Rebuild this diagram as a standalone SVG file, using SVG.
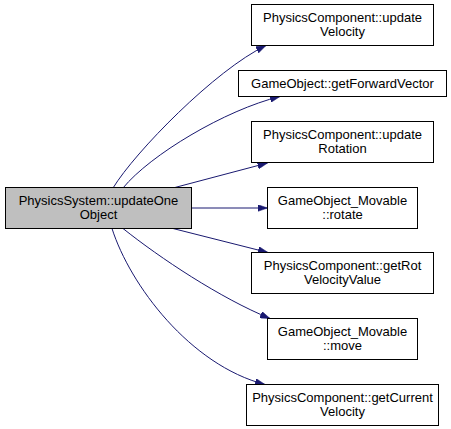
<svg xmlns="http://www.w3.org/2000/svg" width="451" height="429" viewBox="0 0 451 429">
<style>
.node rect{fill:#ffffff;stroke:#000000;stroke-width:1}
.node.root rect{fill:#bfbfbf}
.node text{font-family:"Liberation Sans",Arial,Helvetica,sans-serif;font-size:13px;fill:#000000;text-anchor:middle}
.edge{fill:none;stroke:#191970;stroke-width:1;marker-end:url(#arrow)}
</style>
<defs>
<marker id="arrow" markerUnits="userSpaceOnUse" viewBox="0 0 10 7" refX="10" refY="3.5" markerWidth="10" markerHeight="7" orient="auto">
<path d="M0,0 L10,3.5 L0,7 Z" fill="#191970" stroke="#191970" stroke-width="0.5"/>
</marker>
</defs>
<rect width="451" height="429" fill="#ffffff"/>
<g id="connectors">
<path class="edge" d="M113,188 C135,152 215,70 266,45.5"/>
<path class="edge" d="M123,188 C150,155 225,110 280,96.5"/>
<path class="edge" d="M173,188 L267.5,163"/>
<path class="edge" d="M191.5,208 L267.5,208"/>
<path class="edge" d="M173,228.5 L268,252.5"/>
<path class="edge" d="M123,228.5 C160,258 220,298 270,318.5"/>
<path class="edge" d="M112,228.5 C130,285 190,365 265,384.5"/>
</g>
<g id="node-root" class="node root">
<rect x="5.5" y="187.5" width="186" height="41"/>
<text x="98.5" y="205">PhysicsSystem::updateOne</text>
<text x="98.5" y="219">Object</text>
</g>
<g id="node-updateVelocity" class="node">
<rect x="251.5" y="4.5" width="182" height="41"/>
<text x="342.5" y="22">PhysicsComponent::update</text>
<text x="342.5" y="36">Velocity</text>
</g>
<g id="node-getForwardVector" class="node">
<rect x="238.5" y="70.5" width="208" height="26"/>
<text x="342.5" y="88">GameObject::getForwardVector</text>
</g>
<g id="node-updateRotation" class="node">
<rect x="251.5" y="121.5" width="182" height="41"/>
<text x="342.5" y="139">PhysicsComponent::update</text>
<text x="342.5" y="153">Rotation</text>
</g>
<g id="node-rotate" class="node">
<rect x="267.5" y="187.5" width="150" height="41"/>
<text x="342.5" y="205">GameObject_Movable</text>
<text x="342.5" y="219">::rotate</text>
</g>
<g id="node-getRotVelocityValue" class="node">
<rect x="251.5" y="252.5" width="182" height="41"/>
<text x="342.5" y="270">PhysicsComponent::getRot</text>
<text x="342.5" y="284">VelocityValue</text>
</g>
<g id="node-move" class="node">
<rect x="267.5" y="318.5" width="150" height="41"/>
<text x="342.5" y="336">GameObject_Movable</text>
<text x="342.5" y="350">::move</text>
</g>
<g id="node-getCurrentVelocity" class="node">
<rect x="246.5" y="384.5" width="192" height="41"/>
<text x="342.5" y="402">PhysicsComponent::getCurrent</text>
<text x="342.5" y="416">Velocity</text>
</g>
</svg>
